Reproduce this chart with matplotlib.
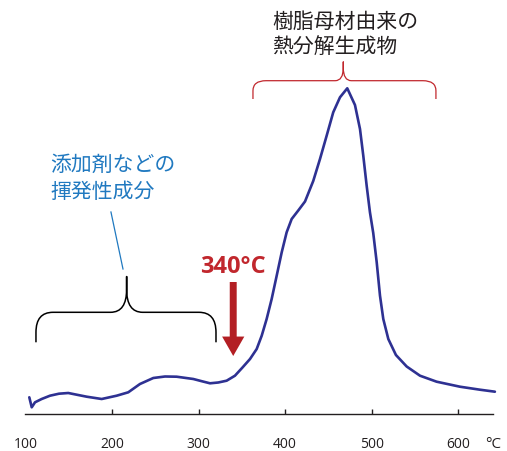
import matplotlib.pyplot as plt
from matplotlib.path import Path
from matplotlib.patches import PathPatch

# TG/DTG curve: temperature (°C) and signal height (arbitrary units)
temp = [104.5, 107.3, 111.1, 118.8, 128.4, 138.8, 149.5, 159.2, 170.8, 188.1,
        205.4, 218.8, 232.3, 247.7, 261.2, 274.7, 293.9, 303.6, 313.2, 322.7,
        332.4, 342.0, 350.7, 359.4, 367.1, 372.9, 378.6, 384.4, 390.2, 396.0,
        401.7, 407.5, 415.1, 422.9, 432.4, 440.2, 447.9, 455.5, 463.3, 471.7,
        480.6, 486.4, 490.2, 494.1, 497.9, 501.7, 505.7, 509.5, 513.3, 519.1,
        527.9, 540.3, 555.7, 574.9, 601.8, 624.9, 642.2]
signal = [16.7, 6.7, 11.7, 15.0, 18.3, 20.3, 21.0, 19.3, 17.3, 15.0,
          18.3, 21.7, 30.0, 36.0, 37.5, 37.3, 35.0, 32.8, 30.7, 31.5,
          33.3, 38.3, 46.5, 55.0, 65.0, 78.3, 95.0, 115.0, 138.3, 161.7,
          181.7, 195.0, 203.5, 212.5, 233.0, 255.0, 278.3, 301.7, 316.7, 325.7,
          309.0, 285.0, 258.3, 228.3, 201.7, 181.0, 151.7, 118.3, 95.0, 75.0,
          59.0, 47.5, 38.3, 32.3, 27.3, 24.3, 22.3]

tick_pos = [100, 200, 300, 400, 500, 600, 640]
tick_labels = ['100', '200', '300', '400', '500', '600', '°C']

onset = 340
low_label = ['添加剤などの', '揮発性成分']
high_label = ['樹脂母材由来の', '熱分解生成物']

JP = ['Noto Sans CJK JP', 'DejaVu Sans']
DARK = '#231f20'
RED = '#c1272d'
BLUE_TXT = '#2079c0'


def draw_brace(ax, x0, x1, xc, y, drop, rise, rx, ry, cx, cy, color, lw):
    verts = [(x0, y - drop), (x0, y - ry), (x0, y), (x0 + rx, y),
             (xc - cx, y), (xc, y), (xc, y + cy), (xc, y + rise),
             (xc, y + cy), (xc, y), (xc + cx, y),
             (x1 - rx, y), (x1, y), (x1, y - ry), (x1, y - drop)]
    codes = [Path.MOVETO, Path.LINETO, Path.CURVE3, Path.CURVE3,
             Path.LINETO, Path.CURVE3, Path.CURVE3, Path.LINETO,
             Path.LINETO, Path.CURVE3, Path.CURVE3,
             Path.LINETO, Path.CURVE3, Path.CURVE3, Path.LINETO]
    ax.add_patch(PathPatch(Path(verts, codes), fill=False, edgecolor=color,
                           lw=lw, capstyle='butt', joinstyle='round'))


fig = plt.figure(figsize=(5.07, 4.52), dpi=100)
ax = fig.add_axes([25.4 / 507, 37 / 452, 467.6 / 507, 415 / 452])
ax.set_xlim(100, 640)
ax.set_ylim(0, 415)

ax.plot(temp, signal, color='#2e3192', lw=1.9, solid_joinstyle='round',
        solid_capstyle='round', clip_on=False)

for side in ['top', 'left', 'right']:
    ax.spines[side].set_visible(False)
ax.spines['bottom'].set_color(DARK)
ax.spines['bottom'].set_linewidth(1.0)
ax.set_yticks([])
ax.set_xticks(tick_pos)
ax.set_xticklabels(tick_labels, fontfamily='Open Sans', fontsize=10, color=DARK)
ax.tick_params(axis='x', direction='in', length=3.8, width=1.0, color=DARK, pad=16)
ticks = ax.xaxis.get_major_ticks()
ticks[0].tick1line.set_visible(False)
ticks[-1].tick1line.set_visible(False)
ax.get_xticklabels()[-1].set_fontsize(11)

# low-temperature region: volatile additives
draw_brace(ax, 112.2, 320.1, 216.9, 101.7, 30, 35.7, 19.6, 20, 18.5, 23, 'black', 1.1)
ax.plot([198.8, 212.7], [202, 145], color=BLUE_TXT, lw=0.9)
ax.text(128.4, 250, low_label[0], family=JP, fontsize=15, color=BLUE_TXT, va='center')
ax.text(128.4, 223, low_label[1], family=JP, fontsize=15, color=BLUE_TXT, va='center')

# main decomposition peak
draw_brace(ax, 362.8, 574.1, 467.1, 333.3, 18.3, 18.7, 15, 10, 9.3, 13, RED, 0.9)
ax.text(384.8, 393, high_label[0], family=JP, fontsize=15, color=DARK, va='center')
ax.text(384.8, 368, high_label[1], family=JP, fontsize=15, color=DARK, va='center')

# decomposition onset
ax.text(onset, 141.7, f'{onset}°C', family='Open Sans', fontweight='bold',
        fontsize=17, color=RED, ha='center', va='baseline')
ax.annotate('', xy=(onset, 58), xytext=(onset, 132),
            arrowprops=dict(arrowstyle='simple,head_width=1.6,head_length=1.4,tail_width=0.5',
                            mutation_scale=10, color='#b31f24', shrinkA=0, shrinkB=0, lw=0))

fig.savefig('out.png', dpi=100)
